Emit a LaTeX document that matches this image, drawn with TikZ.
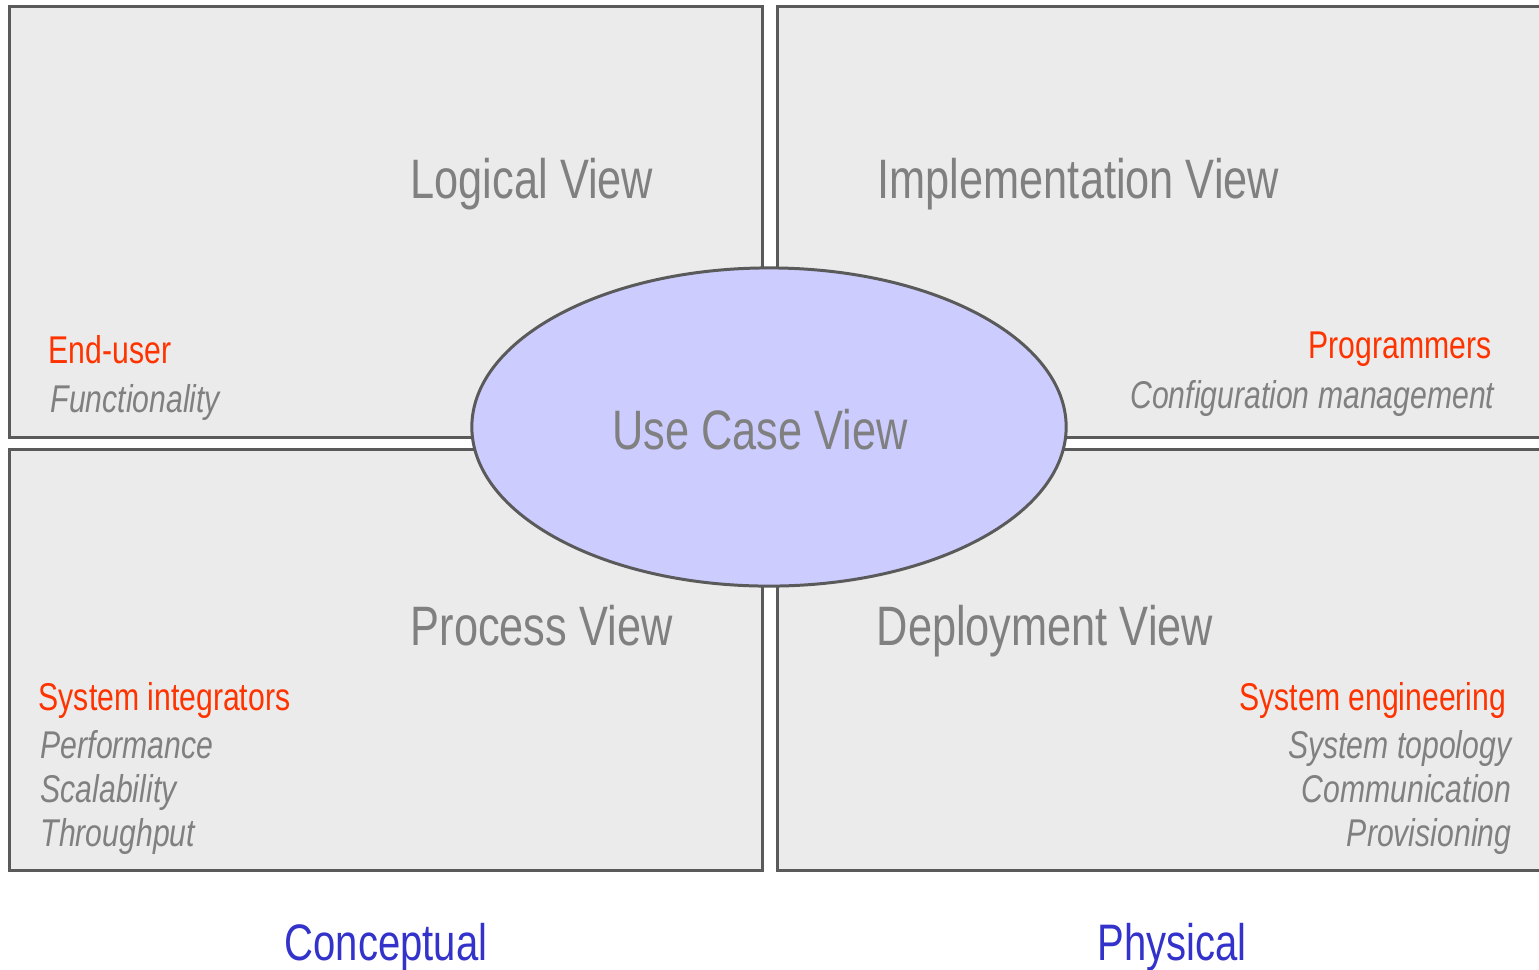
\documentclass[tikz,border=0pt]{standalone}
\usepackage{fontspec}
\setmainfont[FakeStretch=0.78]{Liberation Sans}
\usepackage{tikz}
\usetikzlibrary{positioning,shapes}

\definecolor{panelfill}{HTML}{EBEBEB}
\definecolor{panelline}{HTML}{5A5A5A}
\definecolor{ovalfill}{HTML}{CCCCFF}
\definecolor{txtgray}{HTML}{808080}
\definecolor{txtred}{HTML}{FF3300}
\definecolor{txtblue}{HTML}{3333CC}

\begin{document}
\begin{tikzpicture}[x=0.01cm, y=-0.01cm,
  panel/.style={rectangle, draw=panelline, fill=panelfill, line width=0.85pt, inner sep=0pt},
  title/.style={text=txtgray, font=\fontsize{15.8}{18}\selectfont, inner sep=0pt},
  who/.style={text=txtred, font=\fontsize{11}{13}\selectfont, inner sep=0pt},
  what/.style={text=txtgray, font=\fontsize{11}{13}\selectfont\itshape, inner sep=0pt},
  axis/.style={text=txtblue, font=\fontsize{14.6}{17}\selectfont, inner sep=0pt}]
\useasboundingbox (0,0) rectangle (1539,969);
\clip (0,0) rectangle (1539,969);

\node[panel, minimum width=7.52cm, minimum height=4.30cm] (lv) at (386,222) {};
\node[panel, minimum width=7.82cm, minimum height=4.30cm] (iv) at (1169,222) {};
\node[panel, minimum width=7.52cm, minimum height=4.20cm] (pv) at (386,660) {};
\node[panel, minimum width=7.82cm, minimum height=4.20cm] (dv) at (1169,660) {};
\node[ellipse, draw=panelline, fill=ovalfill, line width=0.85pt,
  minimum width=5.94cm, minimum height=3.18cm] (uc) at (769,427) {};

\node[title, anchor=base west] (lvt) at (410,198) {Logical View};
\node[title, anchor=base west] (ivt) at (877,198) {Implementation View};
\node[title, anchor=base west] (pvt) at (410,645) {Process View};
\node[title, anchor=base west] (dvt) at (876,645) {Deployment View};
\node[title, anchor=base] (uct) at (760,449) {Use Case View};

\node[who, anchor=base west] (enduser) at (48,363) {End-user};
\node[what, anchor=base west] (func) at (50,412) {Functionality};

\node[who, anchor=base east] (prog) at (1492,358) {Programmers};
\node[what, anchor=base east] (conf) at (1495,408) {Configuration management};

\node[who, anchor=base west] (integ) at (38,710) {System integrators};
\node[what, anchor=base west] (perf) at (40,758) {Performance};
\node[what, anchor=base west] (scal) at (40,802) {Scalability};
\node[what, anchor=base west] (thru) at (40,846) {Throughput};

\node[who, anchor=base east] (syseng) at (1507,710) {System engineering};
\node[what, anchor=base east] (topo) at (1512,758) {System topology};
\node[what, anchor=base east] (comm) at (1512,802) {Communication};
\node[what, anchor=base east] (prov) at (1512,846) {Provisioning};

\node[axis, anchor=base] (concept) at (386,960) {Conceptual};
\node[axis, anchor=base] (phys) at (1172,960) {Physical};
\end{tikzpicture}
\end{document}
